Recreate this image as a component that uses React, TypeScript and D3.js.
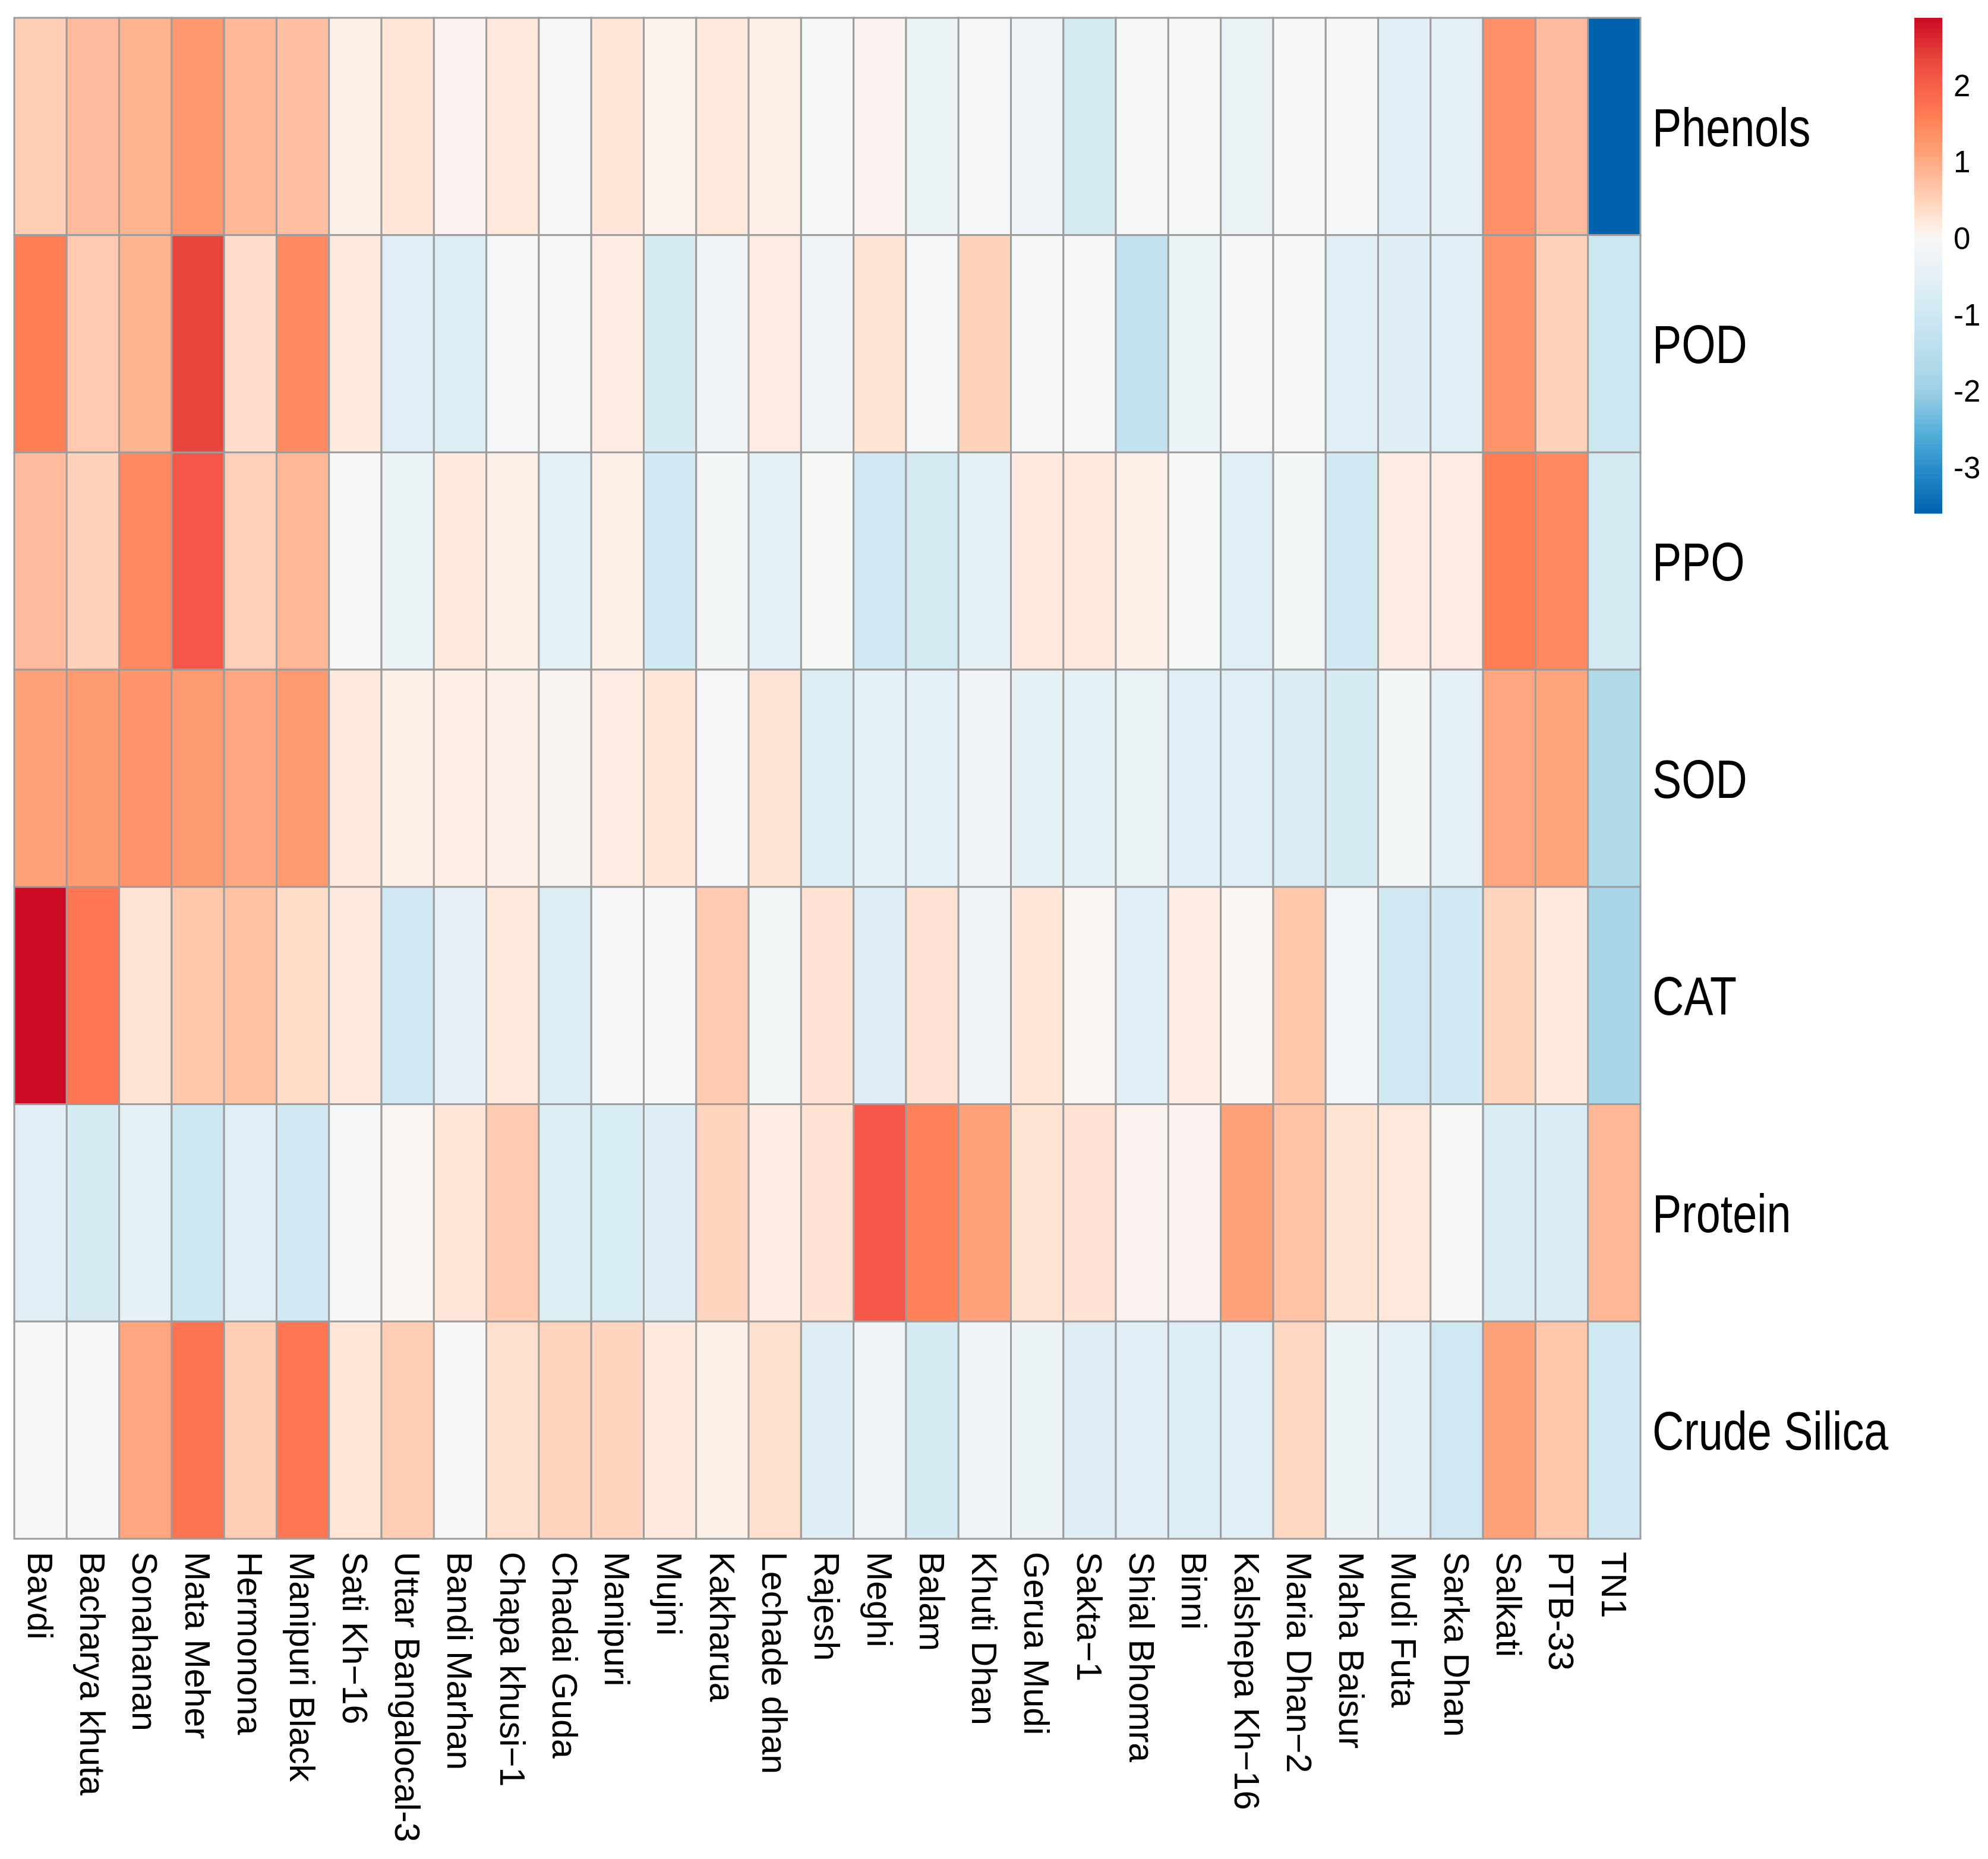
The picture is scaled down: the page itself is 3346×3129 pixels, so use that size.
import React, { useEffect, useRef } from 'react';
import * as d3 from 'd3';

// varieties (columns), left to right
const varieties = [
  'Bavdi', 'Bacharya khuta', 'Sonahanan', 'Mata Meher', 'Hermonona', 'Manipuri Black',
  'Sati Kh\u221216', 'Uttar Bangalocal-3', 'Bandi Marhan', 'Chapa khusi\u22121', 'Chadai Guda',
  'Manipuri', 'Mujni', 'Kakharua', 'Lechade dhan', 'Rajesh', 'Meghi', 'Balam', 'Khuti Dhan',
  'Gerua Mudi', 'Sakta\u22121', 'Shial Bhomra', 'Binni', 'Kalshepa Kh\u221216', 'Maria Dhan\u22122',
  'Maha Baisur', 'Mudi Futa', 'Sarka Dhan', 'Salkati', 'PTB-33', 'TN1'
];

const traits = ['Phenols', 'POD', 'PPO', 'SOD', 'CAT', 'Protein', 'Crude Silica'];

// scaled values, one array per trait (same order as varieties)
const phenols = [0.55, 0.8, 0.9, 1.25, 0.85, 0.75, 0.12, 0.25, 0.07, 0.23, 0.0, 0.25, 0.08, 0.22, 0.13, -0.02, 0.06, -0.3, -0.05, -0.25, -0.85, -0.02, -0.03, -0.3, -0.03, -0.05, -0.55, -0.5, 1.35, 0.8, -3.6];
const pod = [1.6, 0.6, 0.9, 2.35, 0.35, 1.45, 0.2, -0.6, -0.7, -0.05, -0.02, 0.18, -0.8, -0.2, 0.18, -0.2, 0.28, -0.05, 0.5, -0.02, -0.05, -1.3, -0.3, -0.05, -0.03, -0.6, -0.62, -0.6, 1.3, 0.5, -1.05];
const ppo = [0.8, 0.5, 1.45, 2.1, 0.52, 0.85, -0.02, -0.3, 0.2, 0.12, -0.5, 0.12, -0.95, -0.1, -0.5, -0.02, -1.0, -0.9, -0.5, 0.2, 0.2, 0.12, -0.03, -0.6, -0.1, -0.95, 0.15, 0.18, 1.6, 1.45, -0.9];
const sod = [1.1, 1.2, 1.28, 1.2, 1.05, 1.22, 0.2, 0.12, 0.14, 0.11, 0.05, 0.17, 0.25, -0.05, 0.28, -0.65, -0.45, -0.48, -0.18, -0.45, -0.45, -0.35, -0.6, -0.6, -0.75, -0.8, -0.1, -0.48, 1.05, 1.06, -1.65];
const cat = [2.88, 1.7, 0.27, 0.65, 0.72, 0.38, 0.2, -1.0, -0.4, 0.22, -0.65, -0.05, -0.02, 0.6, -0.1, 0.3, -0.62, 0.3, -0.2, 0.25, 0.04, -0.6, 0.15, 0.04, 0.65, -0.15, -1.0, -0.95, 0.47, 0.2, -1.8];
const protein = [-0.55, -0.85, -0.45, -1.05, -0.6, -0.95, -0.02, 0.03, 0.25, 0.58, -0.65, -0.78, -0.62, 0.47, 0.15, 0.3, 2.1, 1.55, 1.1, 0.28, 0.3, 0.07, 0.07, 1.1, 0.7, 0.28, 0.23, -0.03, -0.75, -0.75, 0.85];
const crudeSilica = [-0.02, -0.04, 1.05, 1.72, 0.55, 1.7, 0.25, 0.55, -0.03, 0.33, 0.47, 0.46, 0.2, 0.12, 0.33, -0.62, -0.25, -0.8, -0.2, -0.28, -0.62, -0.55, -0.68, -0.6, 0.42, -0.32, -0.48, -0.98, 1.1, 0.65, -1.0];

const legendTicks = [2, 1, 0, -1, -2, -3];

const W = 3346;
const H = 3129;

const App: React.FC = () => {
  const svgRef = useRef<SVGSVGElement>(null);

  useEffect(() => {
    document.body.style.margin = '0';
    if (!svgRef.current) return;
    const svg = d3.select(svgRef.current);
    svg.selectAll('*').remove();

    const font = '"Liberation Sans", Arial, Helvetica, sans-serif';
    const rowsData = [phenols, pod, ppo, sod, cat, protein, crudeSilica];
    const cells = traits.flatMap((t, i) =>
      varieties.map((v, j) => ({ trait: t, variety: v, value: rowsData[i][j] }))
    );
    const all = cells.map(c => c.value);
    const vmin = d3.min(all)!;
    const vmax = d3.max(all)!;

    const x = d3.scaleBand<string>().domain(varieties).range([24, 2761]);
    const y = d3.scaleBand<string>().domain(traits).range([30, 2590]);

    // red-white-blue ramp
    const color = d3.scaleLinear<string>()
      .domain([-3.6, -3.0, -2.5, -2.0, -1.65, -1.0, -0.5, 0, 0.1, 0.25, 0.5, 0.8, 1.1, 1.3, 1.6, 2.1, 2.35, 2.88])
      .range(['#0062ac', '#2a8dcb', '#5ab2da', '#9dcfe5', '#b0daea', '#cfe8f2', '#e4f0f6', '#f7f7f7', '#fdf1eb',
        '#ffe6d8', '#ffd2ba', '#ffbb9b', '#ffa27a', '#ff946a', '#ff7d55', '#f45748', '#e8453c', '#cc0a24'])
      .interpolate(d3.interpolateRgb)
      .clamp(true);

    // cells
    svg.append('g')
      .selectAll('rect')
      .data(cells)
      .enter()
      .append('rect')
      .attr('x', d => x(d.variety)!)
      .attr('y', d => y(d.trait)!)
      .attr('width', x.bandwidth())
      .attr('height', y.bandwidth())
      .attr('fill', d => color(d.value))
      .attr('stroke', '#9c9c9c')
      .attr('stroke-width', 3);

    // row labels (narrow-looking, so squeeze horizontally)
    const rowLab = svg.append('g');
    traits.forEach(t => {
      const cy = y(t)! + y.bandwidth() / 2;
      rowLab.append('text')
        .attr('transform', `translate(2781, ${cy}) scale(0.81, 1)`)
        .attr('dy', '0.36em')
        .style('font-family', font)
        .style('font-size', '91px')
        .style('fill', '#000')
        .text(t);
    });

    // column labels, rotated
    svg.append('g')
      .selectAll('text')
      .data(varieties)
      .enter()
      .append('text')
      .attr('transform', d => `translate(${x(d)! + x.bandwidth() / 2}, 2612) rotate(90)`)
      .attr('dy', '0.36em')
      .style('font-family', font)
      .style('font-size', '59px')
      .style('fill', '#000')
      .text(d => d);

    // legend colour bar
    const ly = d3.scaleLinear().domain([vmax, vmin]).range([30, 864]);
    const steps = d3.range(100).map(i => vmin + (vmax - vmin) * (i + 0.5) / 100);
    const stepH = (ly(vmin) - ly(vmax)) / 100;
    svg.append('g')
      .selectAll('rect')
      .data(steps)
      .enter()
      .append('rect')
      .attr('x', 3222)
      .attr('y', d => ly(d) - stepH / 2)
      .attr('width', 47)
      .attr('height', stepH + 0.6)
      .attr('fill', d => color(d));

    svg.append('g')
      .selectAll('text')
      .data(legendTicks)
      .enter()
      .append('text')
      .attr('x', 3288)
      .attr('y', d => ly(d))
      .attr('dy', '0.36em')
      .style('font-family', font)
      .style('font-size', '51px')
      .style('fill', '#000')
      .text(d => d3.format('d')(d).replace('\u2212', '-'));
  }, []);

  return (
    <svg ref={svgRef} width={W} height={H} style={{ display: 'block', background: '#fff' }} />
  );
};

export default App;
